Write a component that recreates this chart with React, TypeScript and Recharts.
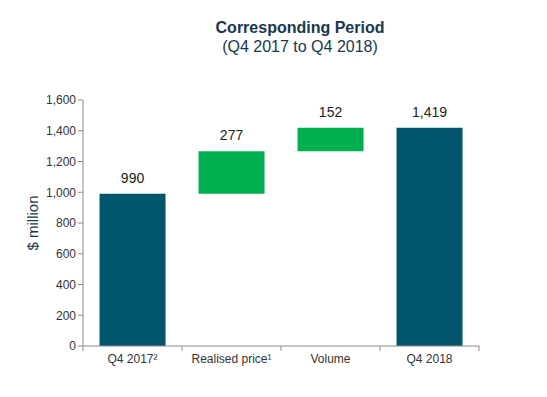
import { BarChart, Bar, XAxis, YAxis, Cell, LabelList, Label } from 'recharts';

// waterfall steps
const categories = ['Q4 2017²', 'Realised price¹', 'Volume', 'Q4 2018'];
const baseValues = [0, 990, 1267, 0];
const stepValues = [990, 277, 152, 1419];
const isTotal = [true, false, false, true];
const yTicks = [0, 200, 400, 600, 800, 1000, 1200, 1400, 1600];

const TEAL = '#02566c';
const GREEN = '#00b050';
const AXIS = '#8c8c8c';
const TEXT = '#333333';

const data = categories.map((name, i) => ({
  name,
  base: baseValues[i],
  value: stepValues[i],
  total: isTotal[i],
}));

const W = 547;
const H = 397;
const margin = { top: 100, right: 68, bottom: 21, left: 23 };
const yAxisWidth = 60;
// band width of one category, used to put x ticks between categories
const band = (W - margin.left - margin.right - yAxisWidth) / categories.length;

const XTick = (props: any) => {
  const { x, y, payload, index } = props;
  const left = x - band / 2;
  return (
    <g>
      <line x1={left} y1={y - 8} x2={left} y2={y - 3} stroke={AXIS} />
      {index === categories.length - 1 && (
        <line x1={left + band} y1={y - 8} x2={left + band} y2={y - 3} stroke={AXIS} />
      )}
      <text x={x} y={y + 9} textAnchor="middle" fontSize={12} fill={TEXT}>
        {payload.value}
      </text>
    </g>
  );
};

export default function App() {
  return (
    <div
      style={{
        position: 'absolute',
        left: 0,
        top: 0,
        width: W,
        height: H,
        background: '#fff',
        fontFamily: '"Liberation Sans", Arial, sans-serif',
      }}
    >
      <div
        style={{
          position: 'absolute',
          left: 0,
          width: 600,
          top: 18,
          textAlign: 'center',
          color: '#17384c',
          fontSize: 16,
          lineHeight: '19px',
        }}
      >
        <div style={{ fontWeight: 'bold' }}>Corresponding Period</div>
        <div>(Q4 2017 to Q4 2018)</div>
      </div>
      <div style={{ position: 'absolute', left: 0, top: 0 }}>
        <BarChart width={W} height={H} data={data} margin={margin} barCategoryGap="16.7%">
          <XAxis
            dataKey="name"
            stroke={AXIS}
            tickLine={false}
            tick={<XTick />}
            interval={0}
          />
          <YAxis
            width={yAxisWidth}
            domain={[0, 1600]}
            ticks={yTicks}
            interval={0}
            stroke={AXIS}
            tickSize={5}
            tick={{ fontSize: 12, fill: TEXT }}
            tickFormatter={(v: number) => v.toLocaleString('en-US')}
          >
            <Label
              value="$ million"
              angle={-90}
              position="insideLeft"
              offset={10}
              style={{ fontSize: 15, fill: '#17384c', textAnchor: 'middle' }}
            />
          </YAxis>
          <Bar dataKey="base" stackId="w" fill="transparent" isAnimationActive={false} />
          <Bar dataKey="value" stackId="w" isAnimationActive={false}>
            {data.map((d, i) => (
              <Cell key={i} fill={d.total ? TEAL : GREEN} />
            ))}
            <LabelList
              dataKey="value"
              position="top"
              offset={11}
              formatter={(v: any) => Number(v).toLocaleString('en-US')}
              style={{ fontSize: 14, fill: '#222' }}
            />
          </Bar>
        </BarChart>
      </div>
    </div>
  );
}
